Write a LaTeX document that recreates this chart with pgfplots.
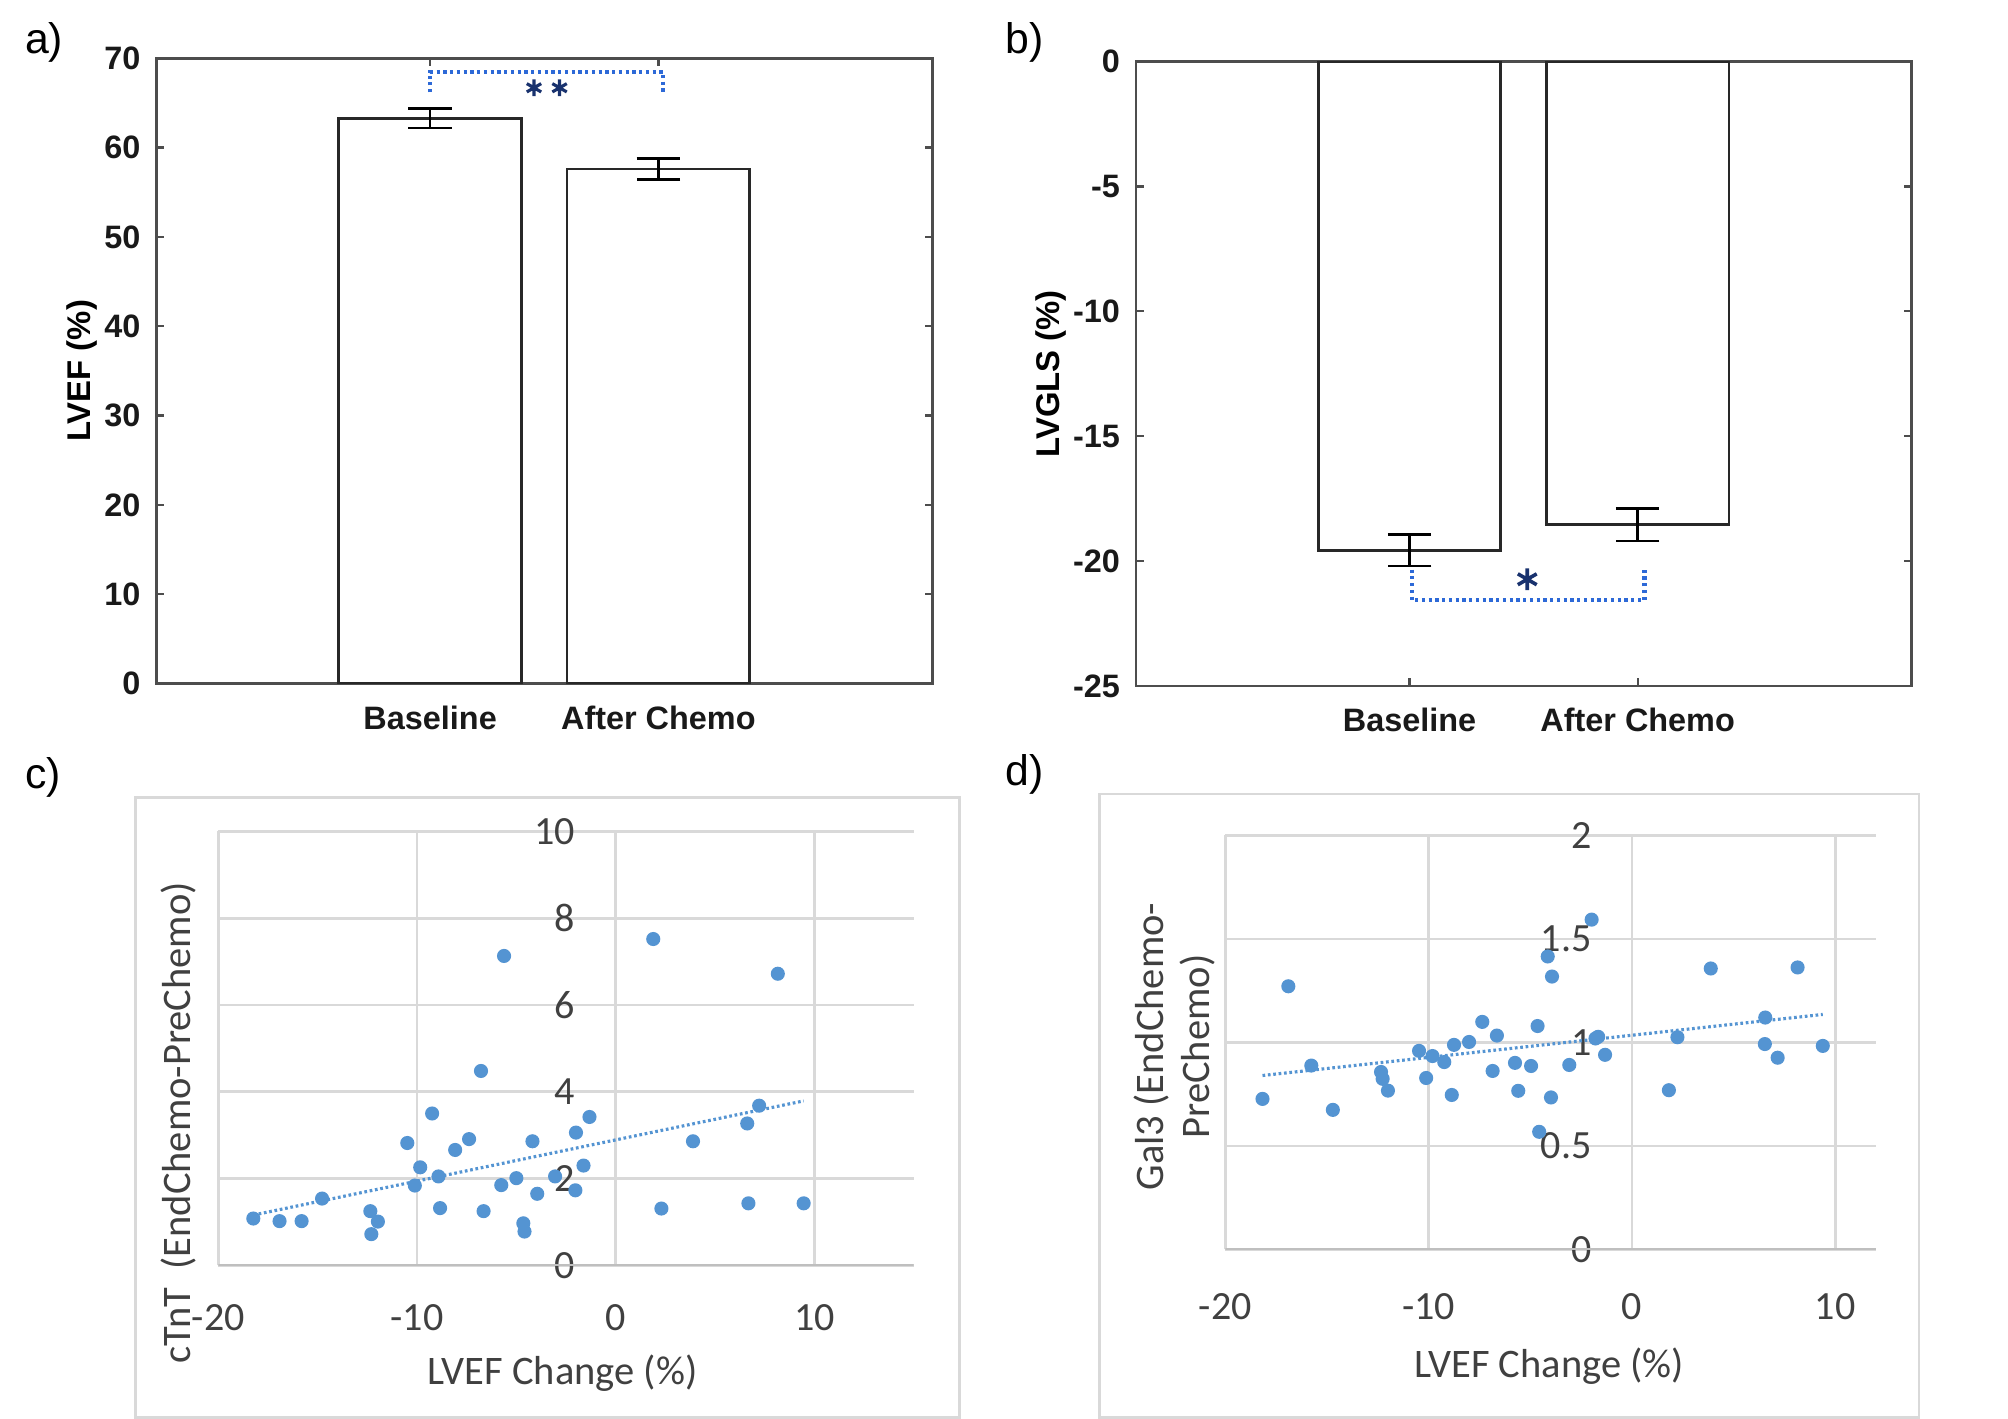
\documentclass[border=0pt]{standalone}
\usepackage{fontspec}
\setmainfont{Liberation Sans}
\newfontfamily\carlito{Carlito}
\usepackage{pgfplots}
\pgfplotsset{compat=1.18}
\usepackage{pgfplotstable}

\definecolor{axgrey}{RGB}{77,77,77}
\definecolor{bardraw}{RGB}{40,40,40}
\definecolor{sigblue}{RGB}{45,105,215}
\definecolor{starblue}{RGB}{25,50,110}
\definecolor{xlblue}{RGB}{84,148,210}
\definecolor{gridgrey}{RGB}{217,217,217}
\definecolor{axlinegrey}{RGB}{191,191,191}
\definecolor{xltext}{RGB}{64,64,64}
\definecolor{bordergrey}{RGB}{217,217,217}

\pgfplotstableread{
x y
-18.24 1.08
-16.92 1.02
-15.81 1.02
-14.78 1.54
-12.35 1.25
-11.97 1.01
-12.30 0.72
-10.49 2.82
-9.84 2.26
-10.11 1.84
-9.24 3.50
-8.92 2.05
-8.84 1.32
-8.08 2.66
-7.38 2.91
-6.78 4.48
-6.65 1.25
-5.62 7.13
-5.76 1.85
-5.00 2.01
-4.19 2.86
-3.95 1.65
-4.65 0.97
-4.59 0.78
-3.05 2.05
-2.00 3.06
-1.62 2.30
-2.03 1.73
-1.32 3.42
1.89 7.52
2.30 1.31
3.89 2.86
6.62 3.27
7.22 3.68
8.16 6.72
6.68 1.43
9.46 1.43
}\datac

\pgfplotstableread{
x y
-18.17 0.727
-16.90 1.271
-15.77 0.888
-14.71 0.674
-12.34 0.857
-12.26 0.824
-12.00 0.767
-10.47 0.959
-10.12 0.828
-9.81 0.934
-9.23 0.905
-8.86 0.746
-8.75 0.988
-8.01 1.002
-7.36 1.099
-6.85 0.862
-6.64 1.033
-5.75 0.901
-5.59 0.766
-4.96 0.886
-4.64 1.079
-4.56 0.568
-4.14 1.415
-3.93 1.318
-3.98 0.734
-3.08 0.891
-1.98 1.593
-1.79 1.019
-1.66 1.027
-1.32 0.940
1.82 0.769
2.24 1.025
3.88 1.357
6.56 1.120
6.54 0.992
7.17 0.926
8.15 1.362
9.39 0.983
}\datad

\pgfplotsset{
 matlabstyle/.style={
  scale only axis, anchor=south west,
  axis line style={draw=axgrey, line width=0.6pt},
  tick style={draw=axgrey, line width=0.5pt},
  major tick length=0.6mm, tick align=inside,
  xmin=-0.2, xmax=3.2, xtick={1,2}, xticklabels={Baseline, After Chemo},
  ticklabel style={font=\fontsize{7.2}{8}\selectfont\bfseries, text=black!90},
  label style={font=\fontsize{7.3}{8.5}\selectfont\bfseries, text=black},
  xticklabel style={anchor=center, yshift=-2.66mm},
  /pgf/number format/assume math mode=true,
 },
 matbar/.style={ybar, bar width=0.8, fill=white, draw=bardraw, line width=0.6pt,
  error bars/.cd, y dir=both, y explicit,
  error bar style={line width=0.6pt, draw=black},
  error mark options={rotate=90, mark size=1.7mm, line width=0.6pt, draw=black}},
 sigline/.style={sigblue, line width=0.9pt, dash pattern=on 0.7pt off 0.8pt},
 excelstyle/.style={
  scale only axis, anchor=south west,
  axis line style={draw=none},
  major tick length=0pt, tick style={draw=none},
  grid=major, grid style={draw=gridgrey, line width=0.6pt},
  ticklabel style={font=\carlito\fontsize{8.9}{9.5}\selectfont, text=xltext},
  label style={font=\carlito\fontsize{9.0}{10.3}\selectfont, text=xltext},
  /pgf/number format/assume math mode=true,
  xtick={-20,-10,0,10}, xmin=-20,
 },
}

\begin{document}
\begin{tikzpicture}
\useasboundingbox (0,0) rectangle (156.8mm,-110.8mm);

% ---- a) ----
\begin{axis}[matlabstyle, at={(12.2mm,-53.37mm)}, width=60.6mm, height=48.82mm,
  ymin=0, ymax=70, ytick={0,10,...,70},
  ylabel={LVEF (\%)}, ylabel style={at={(axis description cs:-0.096,0.5)}, anchor=center}]
\addplot[matbar] coordinates {(1,63.3) +- (0,1.1) (2,57.6) +- (0,1.2)};
\addplot[sigline] coordinates {(1,66.2) (1,68.5) (2.02,68.5) (2.02,66.2)};
\addplot[only marks, mark=asterisk, mark size=0.65mm, starblue, mark options={line width=0.7pt}] coordinates {(1.455,66.7) (1.567,66.7)};
\end{axis}

% ---- b) ----
\begin{axis}[matlabstyle, at={(88.7mm,-53.56mm)}, width=60.55mm, height=48.75mm,
  ymin=-25, ymax=0, ytick={-25,-20,...,0},
  ylabel={LVGLS (\%)}, ylabel style={at={(axis description cs:-0.109,0.5)}, anchor=center}]
\addplot[matbar] coordinates {(1,-19.57) +- (0,0.63) (2,-18.55) +- (0,0.65)};
\addplot[sigline] coordinates {(1.01,-20.34) (1.01,-21.56) (2.03,-21.56) (2.03,-20.34)};
\addplot[only marks, mark=asterisk, mark size=0.85mm, starblue, mark options={line width=0.8pt}] coordinates {(1.516,-20.73)};
\end{axis}

% ---- c) ----
\draw[bordergrey, line width=0.6pt] (10.56mm,-62.26mm) rectangle (74.9mm,-110.7mm);
\begin{axis}[excelstyle, at={(17.05mm,-98.81mm)}, width=54.3mm, height=33.89mm,
  xmax=15, ymin=0, ymax=10, ytick={0,2,...,10},
  xticklabel style={anchor=center, yshift=-4.05mm},
  yticklabel style={anchor=east, xshift=29.1mm},
  xlabel={LVEF Change (\%)}, xlabel style={at={(axis description cs:0.495,-0.2476)}, anchor=center},
  ylabel={cTnT\ \ (EndChemo-PreChemo)}, ylabel style={at={(axis description cs:-0.0575,0.329)}, anchor=center}]
\draw[axlinegrey, line width=0.7pt] (rel axis cs:0,0) -- (rel axis cs:1,0);
\addplot[only marks, mark=*, mark size=0.48mm, xlblue, mark options={draw=xlblue, fill=xlblue}] table {\datac};
\addplot[xlblue, line width=0.7pt, dash pattern=on 0.6pt off 0.6pt] coordinates {(-18.24,1.16) (9.46,3.79)};
\end{axis}

% ---- d) ----
\draw[bordergrey, line width=0.6pt] (85.84mm,-62.0mm) rectangle (149.85mm,-110.7mm);
\begin{axis}[excelstyle, at={(95.68mm,-97.56mm)}, width=50.8mm, height=32.33mm,
  xmax=12, ymin=0, ymax=2, ytick={0,0.5,1,1.5,2},
  xticklabel style={anchor=center, yshift=-4.5mm},
  yticklabel style={anchor=east, xshift=29.85mm},
  xlabel={LVEF Change (\%)}, xlabel style={at={(axis description cs:0.498,-0.283)}, anchor=center},
  ylabel={Gal3 (EndChemo-\\PreChemo)}, ylabel style={at={(axis description cs:-0.078,0.49)}, anchor=center, align=center}]
\draw[axlinegrey, line width=0.7pt] (rel axis cs:0,0) -- (rel axis cs:1,0);
\addplot[only marks, mark=*, mark size=0.48mm, xlblue, mark options={draw=xlblue, fill=xlblue}] table {\datad};
\addplot[xlblue, line width=0.7pt, dash pattern=on 0.6pt off 0.6pt] coordinates {(-18.17,0.84) (9.39,1.135)};
\end{axis}

% panel letters
\node[font=\fontsize{9.5}{10}\selectfont] at (3.45mm,-3.35mm) {a)};
\node[font=\fontsize{9.5}{10}\selectfont] at (80.0mm,-3.3mm) {b)};
\node[font=\fontsize{9.5}{10}\selectfont] at (3.35mm,-60.7mm) {c)};
\node[font=\fontsize{9.5}{10}\selectfont] at (80.0mm,-60.5mm) {d)};
\end{tikzpicture}
\end{document}
